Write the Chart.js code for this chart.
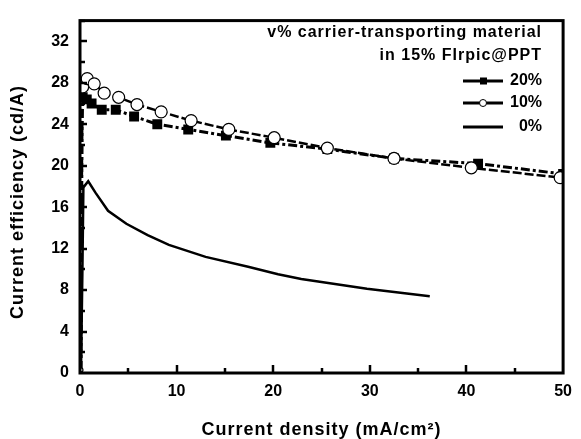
<!DOCTYPE html>
<html>
<head>
<meta charset="UTF-8"/>
<title>Current efficiency</title>
<script src="https://cdn.jsdelivr.net/npm/chart.js@4.4.1/dist/chart.umd.min.js"></script>
<style>
  html, body { margin: 0; padding: 0; background: #fff; }
  #wrap { width: 581px; height: 439px; }
</style>
</head>
<body>
<div id="wrap"><canvas id="chart" width="581" height="439"></canvas></div>
<script>
// values: x = current density (mA/cm2), y = current efficiency (cd/A)
const x20 = [0.1, 0.15, 0.2, 0.28, 0.7, 1.2, 2.25, 3.7, 5.6, 8.0, 11.2, 15.1, 19.7, 25.6, 32.5, 41.2, 50];
const y20 = [0.3, 12, 24, 26.6, 26.4, 26.0, 25.4, 25.4, 24.75, 24.0, 23.5, 22.9, 22.2, 21.6, 20.7, 20.2, 19.2];
const x10 = [0.1, 0.2, 0.27, 0.75, 1.47, 2.5, 4.0, 5.9, 8.4, 11.5, 15.4, 20.1, 25.6, 32.5, 40.5, 49.7];
const y10 = [0.3, 20, 27.6, 28.4, 27.9, 27.0, 26.6, 25.9, 25.2, 24.35, 23.5, 22.7, 21.7, 20.7, 19.8, 18.85];
const x0 = [0.1, 0.25, 0.35, 0.85, 1.6, 2.9, 4.8, 7.0, 9.2, 13.0, 17.4, 20.5, 22.9, 29.7, 36.2];
const y0 = [0, 10, 17.9, 18.5, 17.4, 15.65, 14.4, 13.3, 12.36, 11.2, 10.25, 9.53, 9.07, 8.12, 7.4];
const seriesLabels = ['20%', '10%', '0%'];
const legendTitle = ['v% carrier-transporting material', 'in 15% FIrpic@PPT'];
const yTicks = [0, 4, 8, 12, 16, 20, 24, 28, 32];
const xTicks = [0, 10, 20, 30, 40, 50];
const xTitle = 'Current density (mA/cm²)';
const yTitle = 'Current efficiency (cd/A)';

const pts = (xs, ys) => xs.map((x, i) => ({x: x, y: ys[i]}));
const FONT = "'Liberation Sans', Arial, sans-serif";

const decor = {
  id: 'decor',
  afterDraw(chart) {
    const ctx = chart.ctx, a = chart.chartArea;
    const xs = chart.scales.x, ys = chart.scales.y;
    ctx.save();
    ctx.strokeStyle = '#000';
    ctx.lineWidth = 3;
    ctx.strokeRect(a.left, a.top, a.right - a.left, a.bottom - a.top);
    // inward ticks
    ctx.lineWidth = 2.5;
    for (let v = 2; v <= 34; v += 2) {
      const p = Math.round(ys.getPixelForValue(v));
      ctx.beginPath();
      ctx.moveTo(a.left, p);
      ctx.lineTo(a.left + (v % 4 === 0 ? 7 : 5), p);
      ctx.stroke();
    }
    for (let v = 5; v < 50; v += 5) {
      const p = Math.round(xs.getPixelForValue(v));
      ctx.beginPath();
      ctx.moveTo(p, a.bottom);
      ctx.lineTo(p, a.bottom - (v % 10 === 0 ? 8 : 5));
      ctx.stroke();
    }
    ctx.fillStyle = '#000';
    // axis titles, slightly letter-spaced
    ctx.font = 'bold 18px ' + FONT;
    ctx.letterSpacing = '1px';
    ctx.textAlign = 'center';
    ctx.textBaseline = 'middle';
    ctx.fillText(xTitle, (a.left + a.right) / 2, 430);
    ctx.save();
    ctx.translate(18, 202);
    ctx.rotate(-Math.PI / 2);
    ctx.fillText(yTitle, 0, 0);
    ctx.restore();
    // legend
    ctx.font = 'bold 16px ' + FONT;
    ctx.letterSpacing = '1px';
    ctx.textAlign = 'right';
    ctx.fillText(legendTitle[0], 542, 33);
    ctx.fillText(legendTitle[1], 542, 56);
    ctx.letterSpacing = '0px';
    const rows = [81, 103, 127];
    chart.data.datasets.forEach((ds, i) => {
      const y = rows[i];
      ctx.fillText(seriesLabels[i], 542, y);
      ctx.lineWidth = 3;
      ctx.setLineDash([]);
      ctx.beginPath();
      ctx.moveTo(463, y);
      ctx.lineTo(503, y);
      ctx.stroke();
      if (i === 0) {
        ctx.fillRect(480, y - 3.5, 7, 7);
      } else if (i === 1) {
        ctx.fillStyle = '#fff';
        ctx.beginPath();
        ctx.arc(483, y, 3.5, 0, Math.PI * 2);
        ctx.fill();
        ctx.lineWidth = 1;
        ctx.stroke();
        ctx.fillStyle = '#000';
      }
    });
    ctx.restore();
  }
};

const ctx = document.getElementById('chart').getContext('2d');
new Chart(ctx, {
  type: 'scatter',
  data: {
    datasets: [
      {
        label: seriesLabels[0],
        data: pts(x20, y20),
        order: 1,
        showLine: true,
        borderColor: '#000',
        backgroundColor: '#000',
        borderWidth: 3,
        borderDash: [9, 3, 3, 3],
        pointStyle: 'rect',
        pointRadius: c => (c.raw && c.raw.y < 25 && c.raw.x < 1) ? 0 : 7,
        pointBorderWidth: 0
      },
      {
        label: seriesLabels[1],
        data: pts(x10, y10),
        order: 0,
        showLine: true,
        borderColor: '#000',
        backgroundColor: '#fff',
        borderWidth: 2.5,
        borderDash: [9, 3],
        pointStyle: 'circle',
        pointRadius: c => (c.raw && c.raw.y < 25 && c.raw.x < 1) ? (c.raw.y < 1 ? 2 : 0) : 6,
        pointBorderWidth: 1.2
      },
      {
        label: seriesLabels[2],
        data: pts(x0, y0),
        order: 2,
        showLine: true,
        borderColor: '#000',
        borderWidth: 2.5,
        pointRadius: 0
      }
    ]
  },
  options: {
    responsive: false,
    animation: false,
    layout: { padding: { top: 12, right: 12, left: 0, bottom: 0 } },
    plugins: { legend: { display: false }, tooltip: { enabled: false } },
    scales: {
      x: {
        type: 'linear', min: 0, max: 50,
        afterBuildTicks: s => { s.ticks = xTicks.map(v => ({value: v})); },
        afterFit: s => { s.height = 66; },
        grid: { display: false, drawTicks: false },
        border: { display: false },
        ticks: { color: '#000', font: { family: FONT, size: 16, weight: 'bold' }, padding: 9, maxRotation: 0 }
      },
      y: {
        type: 'linear', min: 0, max: 34,
        afterBuildTicks: s => { s.ticks = yTicks.map(v => ({value: v})); },
        afterFit: s => { s.width = 80; },
        grid: { display: false, drawTicks: false },
        border: { display: false },
        ticks: { color: '#000', font: { family: FONT, size: 16, weight: 'bold' }, padding: 11 }
      }
    }
  },
  plugins: [decor]
});
</script>
</body>
</html>
